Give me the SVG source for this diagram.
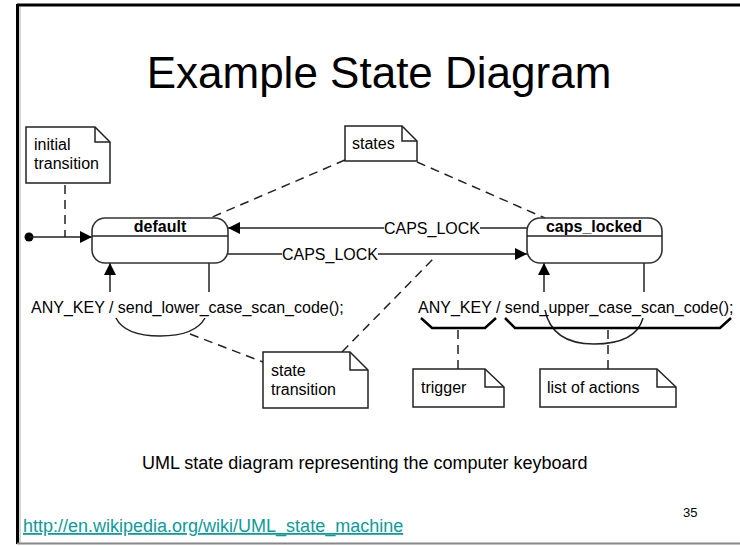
<svg xmlns="http://www.w3.org/2000/svg" width="740" height="546" viewBox="0 0 740 546">
<defs>
<style>
text{font-family:"Liberation Sans",Arial,sans-serif;fill:#000}
.t{font-size:16px}
.b{font-size:16px;font-weight:bold}
.ln{fill:none;stroke:#222;stroke-width:1.5}
.d{fill:none;stroke:#222;stroke-width:1.5;stroke-dasharray:9 6}
.note{fill:#fff;stroke:#222;stroke-width:1.5}
.st{fill:#fff;stroke:#333;stroke-width:1.6}
</style>
<marker id="ah" viewBox="0 0 12 12" refX="12" refY="6" markerWidth="12" markerHeight="12" markerUnits="userSpaceOnUse" orient="auto"><path d="M0,0 L12,6 L0,12 z" fill="#000"/></marker>
</defs>
<rect width="740" height="546" fill="#fff"/>
<g id="frame">
<line x1="17" y1="5" x2="740" y2="5" stroke="#000" stroke-width="3"/>
<line x1="17.5" y1="4" x2="17.5" y2="544" stroke="#000" stroke-width="3"/>
<line x1="20" y1="7" x2="20" y2="544" stroke="#aaa" stroke-width="1"/>
<line x1="17" y1="543.5" x2="740" y2="543.5" stroke="#888" stroke-width="2"/>
</g>
<text x="379" y="88" text-anchor="middle" font-size="44">Example State Diagram</text>
<g id="connectors">
<circle cx="29" cy="237" r="4.5" fill="#000"/>
<line class="ln" x1="29" y1="237" x2="92" y2="237" marker-end="url(#ah)"/>
<line class="ln" x1="527" y1="228" x2="228" y2="228" marker-end="url(#ah)"/>
<line class="ln" x1="228" y1="254" x2="527" y2="254" marker-end="url(#ah)"/>
<line class="ln" x1="110" y1="292" x2="110" y2="263" marker-end="url(#ah)"/>
<line class="ln" x1="209" y1="263" x2="209" y2="292"/>
<line class="ln" x1="544" y1="292" x2="544" y2="263" marker-end="url(#ah)"/>
<line class="ln" x1="644" y1="263" x2="644" y2="292"/>
<path class="ln" d="M116,318 Q125,336 160,336 Q195,336 205,318"/>
<path class="ln" d="M545,310 Q552,344 594,344 Q636,344 643,318"/>
<path d="M421,318 L432,328 L485,328 L496,318" fill="none" stroke="#000" stroke-width="2.5"/>
<path d="M505,318 L515,328 L720,328 L731,318" fill="none" stroke="#000" stroke-width="2.5"/>
<line class="d" x1="65" y1="185" x2="65" y2="237"/>
<line class="d" x1="345" y1="160" x2="210" y2="218"/>
<line class="d" x1="417" y1="162" x2="545" y2="218"/>
<line class="d" x1="190" y1="334" x2="263" y2="362"/>
<line class="d" x1="342" y1="352" x2="435" y2="257"/>
<line class="d" x1="458" y1="330" x2="458" y2="369"/>
<line class="d" x1="608" y1="330" x2="608" y2="369"/>
<rect x="384" y="220" width="96" height="16" fill="#fff"/>
<text class="t" x="432" y="234" text-anchor="middle">CAPS_LOCK</text>
<rect x="282" y="246" width="96" height="16" fill="#fff"/>
<text class="t" x="330" y="260" text-anchor="middle">CAPS_LOCK</text>
</g>
<g id="default">
<rect class="st" x="92" y="218" width="136" height="45" rx="13"/>
<line class="ln" x1="92" y1="236" x2="228" y2="236"/>
<text class="b" x="160" y="232" text-anchor="middle">default</text>
</g>
<g id="caps_locked">
<rect class="st" x="527" y="218" width="135" height="45" rx="13"/>
<line class="ln" x1="527" y1="236" x2="662" y2="236"/>
<text class="b" x="594" y="232" text-anchor="middle">caps_locked</text>
</g>
<g id="labels">
<text class="t" x="31" y="313">ANY_KEY / send_lower_case_scan_code();</text>
<text class="t" x="418" y="313">ANY_KEY / send_upper_case_scan_code();</text>
</g>
<g id="note-initial">
<path class="note" d="M26,127 H95 L110,142 V183 H26 Z"/>
<path class="ln" d="M95,127 V142 H110"/>
<text class="t" x="34" y="150">initial</text>
<text class="t" x="34" y="169">transition</text>
</g>
<g id="note-states">
<path class="note" d="M345,126 H402 L417,141 V161 H345 Z"/>
<path class="ln" d="M402,126 V141 H417"/>
<text class="t" x="352" y="149">states</text>
</g>
<g id="note-state-transition">
<path class="note" d="M263,352 H350 L368,370 V408 H263 Z"/>
<path class="ln" d="M350,352 V370 H368"/>
<text class="t" x="271" y="376">state</text>
<text class="t" x="271" y="395">transition</text>
</g>
<g id="note-trigger">
<path class="note" d="M413,369 H485 L504,387 V407 H413 Z"/>
<path class="ln" d="M485,369 V387 H504"/>
<text class="t" x="421" y="393">trigger</text>
</g>
<g id="note-actions">
<path class="note" d="M540,369 H657 L676,387 V407 H540 Z"/>
<path class="ln" d="M657,369 V387 H676"/>
<text class="t" x="547" y="393">list of actions</text>
</g>
<text x="142" y="469" font-size="18">UML state diagram representing the computer keyboard</text>
<text x="683" y="517" font-size="13">35</text>
<text x="23" y="532" font-size="18" fill="#0E9A9A" style="fill:#0E9A9A" text-decoration="underline">http://en.wikipedia.org/wiki/UML_state_machine</text>
</svg>
